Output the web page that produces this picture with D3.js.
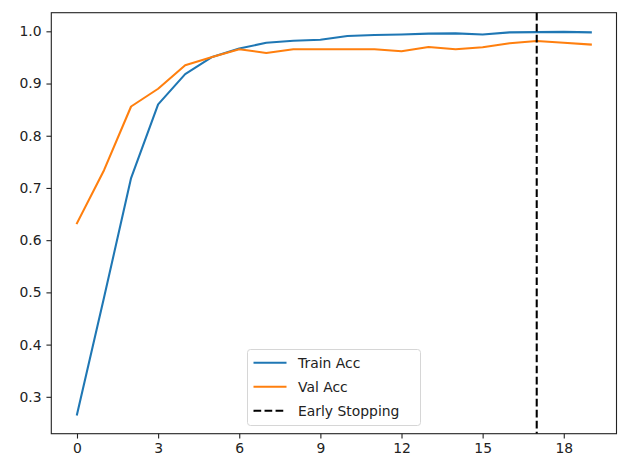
<!DOCTYPE html>
<html>
<head>
<meta charset="utf-8">
<script src="https://cdn.jsdelivr.net/npm/d3@7"></script>
<style>
    body { margin: 0; background: #fff; }
    svg text { font-family: "DejaVu Sans", sans-serif; fill: #222; }
</style>
</head>
<body>
<div id="chart"></div>
<script>
(function () {
    "use strict";

    const epochs = d3.range(0, 20);
    const trainAcc = [0.266, 0.49, 0.719, 0.860, 0.918, 0.951, 0.967, 0.978, 0.982, 0.984,
        0.991, 0.993, 0.994, 0.9955, 0.996, 0.994, 0.998, 0.9985, 0.999, 0.998];
    const valAcc = [0.6325, 0.734, 0.856, 0.890, 0.935, 0.951, 0.9656, 0.9586, 0.9656, 0.9656,
        0.9656, 0.9656, 0.9618, 0.970, 0.9656, 0.9694, 0.977, 0.9815, 0.978, 0.9746];
    const earlyStop = 17;
    const xTicks = [0, 3, 6, 9, 12, 15, 18];
    const yTicks = [0.3, 0.4, 0.5, 0.6, 0.7, 0.8, 0.9, 1.0];
    const series = [
        { name: "Train Acc", values: trainAcc, color: "#1f77b4" },
        { name: "Val Acc", values: valAcc, color: "#ff7f0e" }
    ];

    const width = 619;
    const height = 457;
    const margin = { top: 12.7, right: 2.5, bottom: 23.3, left: 51.3 };
    const innerW = width - margin.left - margin.right;
    const innerH = height - margin.top - margin.bottom;

    const svg = d3.select("#chart").append("svg")
        .attr("width", width)
        .attr("height", height);

    const g = svg.append("g")
        .attr("transform", `translate(${margin.left},${margin.top})`);

    // matplotlib style 5% margins
    const xScale = d3.scaleLinear().domain([-0.95, 19.95]).range([0, innerW]);
    const allY = trainAcc.concat(valAcc);
    const yMin = d3.min(allY);
    const yMax = d3.max(allY);
    const pad = (yMax - yMin) * 0.05;
    const yScale = d3.scaleLinear().domain([yMin - pad, yMax + pad]).range([innerH, 0]);

    const line = d3.line()
        .x((d, i) => xScale(epochs[i]))
        .y(d => yScale(d));

    series.forEach(s => {
        g.append("path")
            .datum(s.values)
            .attr("fill", "none")
            .attr("stroke", s.color)
            .attr("stroke-width", 2.08)
            .attr("stroke-linejoin", "round")
            .attr("stroke-linecap", "square")
            .attr("d", line);
    });

    g.append("line")
        .attr("x1", xScale(earlyStop))
        .attr("x2", xScale(earlyStop))
        .attr("y1", 0)
        .attr("y2", innerH)
        .attr("stroke", "#000")
        .attr("stroke-width", 2.08)
        .attr("stroke-dasharray", "7.7,3.33");

    const xAxis = d3.axisBottom(xScale)
        .tickValues(xTicks)
        .tickSize(4.86)
        .tickPadding(4.2)
        .tickFormat(d3.format("d"));

    const yAxis = d3.axisLeft(yScale)
        .tickValues(yTicks)
        .tickSize(4.86)
        .tickPadding(4.86)
        .tickFormat(d3.format(".1f"));

    const xg = g.append("g")
        .attr("transform", `translate(0,${innerH})`)
        .call(xAxis);
    const yg = g.append("g").call(yAxis);

    [xg, yg].forEach(a => {
        a.select(".domain").remove();
        a.selectAll(".tick line").attr("stroke", "#222").attr("stroke-width", 1.1);
        a.selectAll(".tick text").style("font-size", "13.9px").attr("fill", "#222");
    });

    g.append("rect")
        .attr("width", innerW)
        .attr("height", innerH)
        .attr("fill", "none")
        .attr("stroke", "#222")
        .attr("stroke-width", 1.1);

    // legend
    const legendItems = series.map(s => ({ name: s.name, color: s.color, dash: null }))
        .concat([{ name: "Early Stopping", color: "#000", dash: "7.7,3.33" }]);

    const legend = svg.append("g").attr("transform", "translate(247.5,349.5)");
    legend.append("rect")
        .attr("width", 173)
        .attr("height", 76)
        .attr("rx", 3)
        .attr("fill", "#fff")
        .attr("fill-opacity", 0.8)
        .attr("stroke", "#d6d6d6")
        .attr("stroke-width", 1);

    legendItems.forEach((d, i) => {
        const y = 13.3 + i * 24;
        legend.append("line")
            .attr("x1", 6)
            .attr("x2", 39)
            .attr("y1", y)
            .attr("y2", y)
            .attr("stroke", d.color)
            .attr("stroke-width", 2.08)
            .attr("stroke-dasharray", d.dash);
        legend.append("text")
            .attr("x", 50.5)
            .attr("y", y)
            .attr("dy", "0.36em")
            .style("font-size", "13.9px")
            .text(d.name);
    });
}());
</script>
</body>
</html>
